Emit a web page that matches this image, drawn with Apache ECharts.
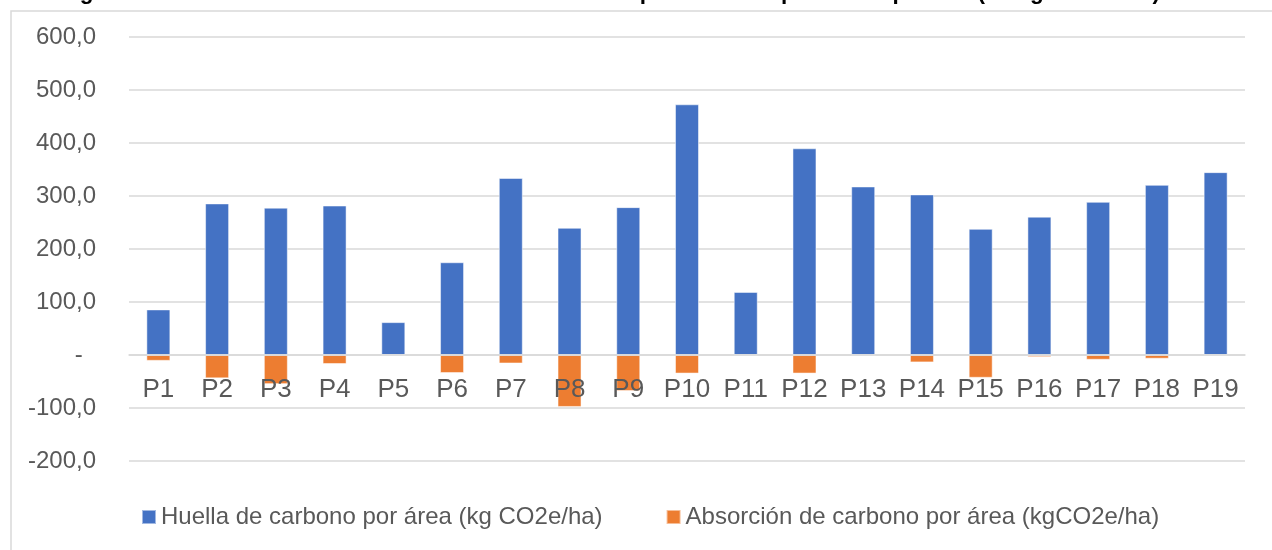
<!DOCTYPE html>
<html>
<head>
<meta charset="utf-8">
<script src="https://cdn.jsdelivr.net/npm/echarts@6/dist/echarts.min.js"></script>
<style>
html,body{margin:0;padding:0;background:#fff;}
#chart{width:1272px;height:550px;}
</style>
</head>
<body>
<div id="chart"></div>
<script>
const titleText = 'Figura 5. Huella de carbono vs. absorción de carbono por hectárea para cada parcela (en kg CO₂e/año)';
const categories = ['P1','P2','P3','P4','P5','P6','P7','P8','P9','P10','P11','P12','P13','P14','P15','P16','P17','P18','P19'];
const seriesNames = ['Huella de carbono por área (kg CO2e/ha)', 'Absorción de carbono por área (kgCO2e/ha)'];
const huella = [86, 286, 278, 282, 62, 175, 334, 240, 279, 473, 119, 390, 318, 303, 238, 261, 289, 321, 345];
const absorcion = [-11, -44, -55, -17, 0, -34, -16, -98, -68, -35, 0, -35, 0, -14, -43, -4, -9, -7, 0];
const yTicks = {min: -200, max: 600, interval: 100};

const FONT = '"Liberation Sans", Arial, sans-serif';
const GRID_TOP = 37, GRID_BOTTOM = 89;
const plotH = 550 - GRID_TOP - GRID_BOTTOM;
const zeroOffset = -plotH * (0 - yTicks.min) / (yTicks.max - yTicks.min);

const chart = echarts.init(document.getElementById('chart'), null, {renderer: 'canvas'});
chart.setOption({
  animation: false,
  backgroundColor: '#ffffff',
  textStyle: {fontFamily: FONT},
  graphic: [
    {type: 'rect', shape: {x: 11, y: 11, width: 1300, height: 600}, style: {fill: 'none', stroke: '#d9d9d9', lineWidth: 1.5}, silent: true, z: -1},
    {type: 'text', x: 1160, y: -7, style: {text: titleText, font: 'bold 22.5px ' + FONT, fill: '#000', verticalAlign: 'middle', align: 'right'}}
  ],
  grid: {left: 129, right: 27, top: GRID_TOP, bottom: GRID_BOTTOM, containLabel: false},
  legend: {
    data: seriesNames,
    bottom: 16,
    left: 136,
    itemWidth: 14,
    itemHeight: 14,
    itemGap: 63,
    icon: 'rect',
    textStyle: {fontSize: 24, color: '#595959', fontFamily: FONT}
  },
  xAxis: {
    type: 'category',
    data: categories,
    position: 'bottom',
    offset: zeroOffset,
    z: 10,
    axisLine: {onZero: false, lineStyle: {color: '#d9d9d9', width: 1.5}},
    axisTick: {show: false},
    axisLabel: {interval: 0, fontSize: 26, color: '#595959', margin: 22, fontFamily: FONT}
  },
  yAxis: {
    type: 'value',
    min: yTicks.min,
    max: yTicks.max,
    interval: yTicks.interval,
    axisLine: {show: false},
    axisTick: {show: false},
    splitLine: {lineStyle: {color: '#d9d9d9', width: 1.5}},
    axisLabel: {
      fontSize: 24, color: '#595959', margin: 33, fontFamily: FONT,
      formatter: v => v === 0 ? '-\u00a0\u00a0' : v.toFixed(1).replace('.', ',')
    }
  },
  series: [
    {name: seriesNames[0], type: 'bar', data: huella, barWidth: 24, barGap: '-100%', z: 2,
     itemStyle: {color: '#4472C4', borderColor: 'rgba(255,255,255,0.5)', borderWidth: 1}},
    {name: seriesNames[1], type: 'bar', data: absorcion, barWidth: 24, z: 2,
     itemStyle: {color: '#ED7D31', borderColor: 'rgba(255,255,255,0.5)', borderWidth: 1}}
  ]
});
</script>
</body>
</html>
